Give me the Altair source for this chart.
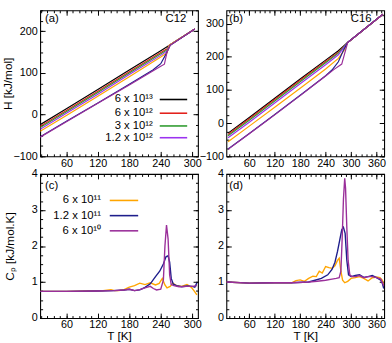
import altair as alt
import pandas as pd

FONT = "Liberation Sans"
LFS = 11
TFS = 12

SERIES = ["6e13", "6e12", "3e12", "1.2e12", "6e11", "1.2e11", "6e10"]
LABELS = ["6 x 10¹³", "6 x 10¹²", "3 x 10¹²", "1.2 x 10¹²", "6 x 10¹¹", "1.2 x 10¹¹", "6 x 10¹⁰"]
COLORS = ["#000000", "#e3211c", "#2f9b2f", "#9b33f0", "#ffa500", "#1e1e8c", "#9a2f9a"]

# ---- Panel (a): C12 enthalpy ----
A_T = {
    "6e13": [10, 60, 120, 180, 240, 255, 305],
    "6e12": [10, 60, 120, 180, 240, 252, 256, 305],
    "3e12": [10, 60, 120, 180, 240, 252, 256, 305],
    "1.2e12": [10, 60, 120, 180, 240, 252, 256, 305],
    "6e11": [10, 60, 120, 180, 240, 252, 256, 305],
    "1.2e11": [10, 60, 120, 180, 225, 240, 250, 258, 305],
    "6e10": [10, 60, 120, 180, 240, 247, 252, 258, 305],
}
A_H = {
    "6e13": [-24, 14, 60, 107, 153, 165, 205],
    "6e12": [-28, 10, 56, 103, 149, 158, 166, 205],
    "3e12": [-31, 7, 53, 100, 146, 155, 166, 205],
    "1.2e12": [-35, 3, 49, 96, 142, 152, 166, 205],
    "6e11": [-40, -2, 44, 91, 138, 148, 166, 205],
    "1.2e11": [-53, -16, 28, 73, 107, 122, 145, 166, 205],
    "6e10": [-54, -17, 27, 71, 116, 121, 150, 166, 205],
}

# ---- Panel (b): C16 enthalpy ----
B_T = {
    "6e13": [10, 60, 120, 180, 240, 270, 292, 375],
    "6e12": [10, 60, 120, 180, 240, 270, 292, 375],
    "3e12": [10, 60, 120, 180, 240, 270, 292, 375],
    "1.2e12": [10, 60, 120, 180, 240, 270, 292, 375],
    "6e11": [10, 60, 120, 180, 240, 270, 285, 292, 375],
    "1.2e11": [10, 60, 120, 180, 240, 255, 270, 282, 292, 375],
    "6e10": [10, 60, 120, 180, 240, 260, 278, 292, 375],
}
B_H = {
    "6e13": [-30, 17, 75, 133, 190, 218, 243, 328],
    "6e12": [-34, 13, 71, 129, 186, 214, 243, 328],
    "3e12": [-38, 9, 67, 125, 182, 211, 243, 328],
    "1.2e12": [-44, 3, 61, 119, 176, 206, 243, 328],
    "6e11": [-56, -9, 48, 105, 163, 195, 222, 243, 328],
    "1.2e11": [-78, -31, 26, 84, 143, 160, 185, 220, 243, 328],
    "6e10": [-79, -32, 25, 83, 142, 162, 178, 243, 328],
}

# ---- Panel (c): C12 heat capacity ----
C_T = {
    "6e11": [10, 60, 100, 130, 145, 152, 160, 170, 180, 190, 200, 210, 220, 230, 237, 243, 248, 252, 258, 263, 270, 280, 290, 298, 304, 309],
    "1.2e11": [10, 60, 120, 150, 170, 180, 190, 200, 210, 220, 230, 238, 245, 250, 254, 257, 260, 264, 270, 280, 290, 300, 305, 309],
    "6e10": [10, 60, 120, 150, 170, 180, 190, 200, 210, 220, 226, 232, 240, 245, 248, 251, 254, 257, 260, 265, 275, 290, 300, 309],
}
C_CP = {
    "6e11": [0.74, 0.74, 0.75, 0.76, 0.79, 0.76, 0.76, 0.79, 0.86, 0.9, 0.97, 0.93, 0.98, 0.92, 0.96, 1.1, 0.92, 0.84, 0.88, 0.97, 0.9, 0.88, 0.93, 0.86, 0.75, 0.64],
    "1.2e11": [0.74, 0.74, 0.75, 0.76, 0.78, 0.8, 0.76, 0.78, 0.85, 0.95, 1.15, 1.3, 1.5, 1.7, 1.73, 1.55, 1.1, 0.94, 0.9, 0.87, 0.89, 0.88, 0.86, 0.98],
    "6e10": [0.74, 0.74, 0.75, 0.76, 0.78, 0.8, 0.76, 0.79, 0.84, 0.88, 0.82, 0.78, 0.8, 1.05, 2.0, 2.58, 2.2, 1.2, 0.93, 0.9, 0.87, 0.88, 0.88, 0.9],
}

# ---- Panel (d): C16 heat capacity ----
D_T = {
    "6e11": [6, 60, 120, 160, 170, 180, 190, 200, 210, 218, 225, 232, 240, 248, 255, 262, 268, 272, 276, 280, 285, 292, 300, 310, 320, 330, 340, 350, 360, 368, 374, 377],
    "1.2e11": [6, 60, 120, 160, 200, 215, 230, 245, 255, 262, 268, 273, 278, 282, 286, 290, 294, 300, 310, 320, 330, 340, 350, 360, 370, 374, 377],
    "6e10": [6, 60, 120, 160, 200, 220, 240, 255, 265, 272, 276, 279, 282, 285, 287, 290, 293, 297, 302, 310, 320, 330, 340, 350, 360, 370, 377],
}
D_CP = {
    "6e11": [1.0, 0.97, 0.98, 0.98, 1.04, 1.06, 1.02, 1.1, 1.16, 1.15, 1.3, 1.25, 1.43, 1.4, 1.38, 1.45, 1.6, 1.66, 1.3, 1.05, 0.98, 1.02, 1.1, 1.12, 1.15, 1.1, 1.03, 1.12, 1.14, 1.12, 1.05, 0.9],
    "1.2e11": [1.0, 0.97, 0.98, 0.98, 1.0, 1.05, 1.1, 1.2, 1.35, 1.55, 1.85, 2.15, 2.45, 2.52, 2.35, 1.6, 1.2, 1.15, 1.18, 1.2, 1.13, 1.15, 1.18, 1.12, 1.05, 0.95, 0.82],
    "6e10": [1.0, 0.97, 0.98, 0.98, 1.0, 1.02, 1.05, 1.08, 1.1, 1.12, 1.3, 2.2, 3.3, 3.88, 3.6, 2.5, 1.6, 1.2, 1.15, 1.15, 1.18, 1.12, 1.15, 1.15, 1.12, 1.08, 0.9],
}

# axis ticks
XA_MAJ = [60, 120, 180, 240, 300]
XA_MIN = list(range(12, 311, 12))
XB_MAJ = [60, 120, 180, 240, 300, 360]
XB_MIN = list(range(12, 377, 12))
YA_MAJ = [-100, 0, 100, 200]
YA_MIN = list(range(-100, 251, 25))
YB_MAJ = [-100, 0, 100, 200, 300]
YB_MIN = list(range(-100, 341, 25))
YC_MAJ = [0, 1, 2, 3, 4]
YC_MIN = [i * 0.25 for i in range(17)]

XDOM_A = [10, 311]
XDOM_B = [6, 378]
YDOM_A = [-100, 250]
YDOM_B = [-100, 340]
YDOM_C = [0, 4]

MAJ = 5
MIN = 2.5

cscale = alt.Scale(domain=SERIES, range=COLORS)
lab_of = dict(zip(SERIES, LABELS))


def to_df(tdict, vdict):
    rows = []
    for s in tdict:
        for i, (t, v) in enumerate(zip(tdict[s], vdict[s])):
            rows.append({"s": s, "T": t, "v": v, "i": i})
    return pd.DataFrame(rows)


def panel(df, xdom, ydom, xmaj, xmin, ymaj, ymin, w, h, ytitle=None, ytx=-26, xtitle=None,
          texts=(), legend=None, sw=1.2):
    xs = alt.Scale(domain=xdom, nice=False, zero=False)
    ys = alt.Scale(domain=ydom, nice=False, zero=False)
    corners = pd.DataFrame({"x": xdom, "y": ydom})
    one = pd.DataFrame({"k": [0]})
    layers = []

    # main axes bottom/left with labels (ticks pointing inward via negative offset)
    xa_kw = dict(orient="bottom", values=xmaj, tickSize=MAJ, offset=-MAJ, labelPadding=1,
                 labelFlush=False, labelOverlap=False)
    if xtitle:
        xa_kw.update(titleX=w / 2, titleY=MAJ + 13, titleBaseline="top")
    ya_kw = dict(orient="left", values=ymaj, tickSize=MAJ, offset=-MAJ, labelPadding=3,
                 labelFlush=False, labelOverlap=False)
    if ytitle:
        ya_kw.update(titleX=ytx - MAJ, titleY=h / 2)
    base = alt.Chart(corners).mark_point(opacity=0)
    layers.append(base.encode(
        x=alt.X("x:Q", scale=xs, axis=alt.Axis(**xa_kw), title=xtitle if xtitle else None),
        y=alt.Y("y:Q", scale=ys, axis=alt.Axis(**ya_kw), title=ytitle if ytitle else None),
    ))
    # minor bottom/left
    layers.append(base.encode(
        x=alt.X("x:Q", scale=xs, title=None,
                axis=alt.Axis(orient="bottom", values=xmin, tickSize=MIN, offset=-MIN, labels=False)),
        y=alt.Y("y:Q", scale=ys, title=None,
                axis=alt.Axis(orient="left", values=ymin, tickSize=MIN, offset=-MIN, labels=False)),
    ))
    # mirror top/right major
    layers.append(base.encode(
        x=alt.X("x:Q", scale=xs, title=None,
                axis=alt.Axis(orient="top", values=xmaj, tickSize=MAJ, offset=-MAJ, labels=False)),
        y=alt.Y("y:Q", scale=ys, title=None,
                axis=alt.Axis(orient="right", values=ymaj, tickSize=MAJ, offset=-MAJ, labels=False)),
    ))
    # mirror top/right minor
    layers.append(base.encode(
        x=alt.X("x:Q", scale=xs, title=None,
                axis=alt.Axis(orient="top", values=xmin, tickSize=MIN, offset=-MIN, labels=False)),
        y=alt.Y("y:Q", scale=ys, title=None,
                axis=alt.Axis(orient="right", values=ymin, tickSize=MIN, offset=-MIN, labels=False)),
    ))
    # data lines
    layers.append(alt.Chart(df).mark_line(strokeWidth=sw, clip=True).encode(
        x=alt.X("T:Q", scale=xs, axis=None),
        y=alt.Y("v:Q", scale=ys, axis=None),
        color=alt.Color("s:N", scale=cscale, legend=None),
        detail="s:N",
        order="i:Q",
    ))
    for (txt, px, py, al) in texts:
        layers.append(alt.Chart(one).mark_text(
            text=txt, align=al, baseline="middle", font=FONT, fontSize=11.5, color="black"
        ).encode(x=alt.value(px), y=alt.value(py)))
    if legend is not None:
        ldf, tx, lx1, lx2 = legend
        layers.append(alt.Chart(ldf).mark_text(
            align="right", baseline="middle", font=FONT, fontSize=11.5, color="black"
        ).encode(x=alt.value(tx), y=alt.Y("ly:Q", scale=None, axis=None), text="lab:N"))
        layers.append(alt.Chart(ldf).mark_rule(strokeWidth=1.6).encode(
            x=alt.value(lx1), x2=alt.value(lx2),
            y=alt.Y("ly:Q", scale=None, axis=None),
            color=alt.Color("s:N", scale=cscale, legend=None),
        ))
    return alt.layer(*layers).resolve_axis(x="independent", y="independent").properties(
        width=w, height=h)


# legends
LEG_A_S = ["6e13", "6e12", "3e12", "1.2e12"]
LEG_A_Y = [91, 105, 118, 130]
LEG_C_S = ["6e11", "1.2e11", "6e10"]
LEG_C_Y = [27, 42.5, 58]
leg_a = pd.DataFrame({"s": LEG_A_S, "lab": [lab_of[s] for s in LEG_A_S], "ly": LEG_A_Y})
leg_c = pd.DataFrame({"s": LEG_C_S, "lab": [lab_of[s] for s in LEG_C_S], "ly": LEG_C_Y})

W = 161
H_TOP = 149
H_BOT = 147

pa = panel(to_df(A_T, A_H), XDOM_A, YDOM_A, XA_MAJ, XA_MIN, YA_MAJ, YA_MIN, W, H_TOP,
           ytitle="H [kJ/mol]", ytx=-26,
           texts=[("(a)", 5, 9, "left"), ("C12", 149, 9, "right")],
           legend=(leg_a, 115, 122, 150), sw=1.2)
pb = panel(to_df(B_T, B_H), XDOM_B, YDOM_B, XB_MAJ, XB_MIN, YB_MAJ, YB_MIN, W, H_TOP,
           texts=[("(b)", 3, 9, "left"), ("C16", 148, 9, "right")], sw=1.2)
pc = panel(to_df(C_T, C_CP), XDOM_A, YDOM_C, XA_MAJ, XA_MIN, YC_MAJ, YC_MIN, W, H_BOT,
           ytitle="Cₚ [kJ/mol.K]", ytx=-24, xtitle="T [K]", texts=[("(c)", 5, 12, "left")],
           legend=(leg_c, 62, 71, 100), sw=1.4)
pd_ = panel(to_df(D_T, D_CP), XDOM_B, YDOM_C, XB_MAJ, XB_MIN, YC_MAJ, YC_MIN, W, H_BOT,
            xtitle="T [K]", texts=[("(d)", 3, 12, "left")], sw=1.4)

chart = alt.concat(pa, pb, pc, pd_, columns=2, bounds="flush",
                   spacing={"row": 18, "column": 29}).properties(
    padding={"left": 1, "top": 3, "right": 4, "bottom": 0},
    background="white",
).configure_view(stroke="black", strokeWidth=1.1).configure_axis(
    grid=False, domain=False, labelFont=FONT, labelFontSize=LFS, labelColor="black",
    titleFont=FONT, titleFontSize=TFS, titleFontWeight="normal", titleColor="black",
    tickColor="black", tickWidth=1,
)

chart.save("out.html", embed_options={"renderer": "svg", "actions": False})
